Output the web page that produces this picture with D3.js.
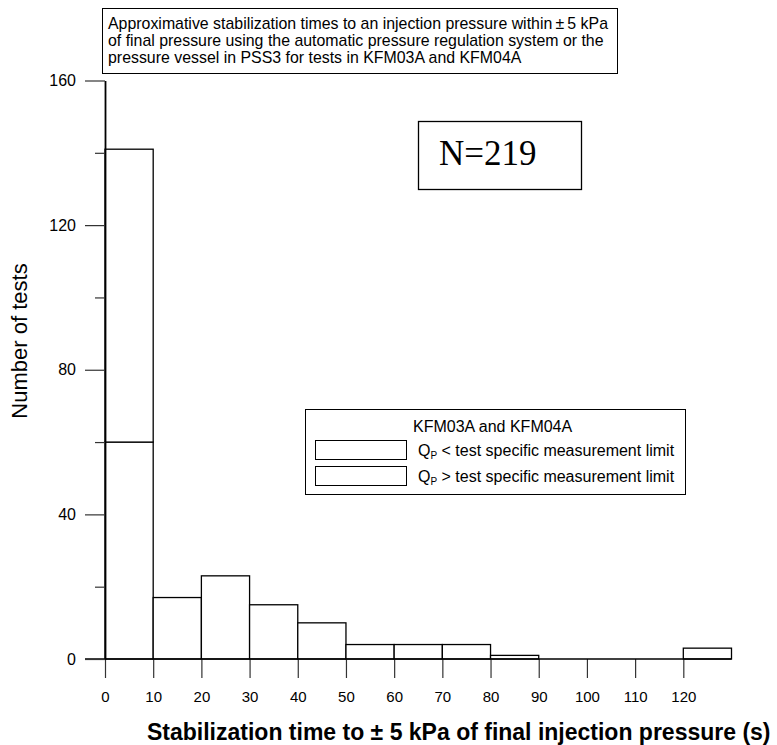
<!DOCTYPE html>
<html>
<head>
<meta charset="utf-8">
<script src="https://cdn.jsdelivr.net/npm/d3@7"></script>
<style>
  body { margin: 0; background: #fff; }
  svg { display: block; font-family: "Liberation Sans", Arial, sans-serif; }
</style>
</head>
<body>
<svg id="chart" width="777" height="745"></svg>
<script>
// bin starts (seconds), bins are 10 s wide
const binStarts = [0, 10, 20, 30, 40, 50, 60, 70, 80, 90, 100, 110, 120];
// stacked counts per bin
const lowerCounts = [60, 17, 23, 15, 10, 4, 4, 4, 1, 0, 0, 0, 3];
const upperCounts = [81, 0, 0, 0, 0, 0, 0, 0, 0, 0, 0, 0, 0];
const xTicks = [0, 10, 20, 30, 40, 50, 60, 70, 80, 90, 100, 110, 120];
const yMajorTicks = [0, 40, 80, 120, 160];
const yMinorTicks = [20, 60, 100, 140];
const titleLines = [
  'Approximative stabilization times to an injection pressure within\u2009\u00B1\u20095 kPa',
  'of final pressure using the automatic pressure regulation system or the',
  'pressure vessel in PSS3 for tests in KFM03A and KFM04A'
];
const legendTitle = 'KFM03A and KFM04A';
const legendItems = ['< test specific measurement limit', '> test specific measurement limit'];

const svg = d3.select('#chart');

const x = d3.scaleLinear().domain([0, 130]).range([105, 731.5]);
const y = d3.scaleLinear().domain([0, 160]).range([659, 80.5]);

// stack the two groups
const rows = binStarts.map((b, i) => ({ bin: b, lower: lowerCounts[i], upper: upperCounts[i] }));
const stacked = d3.stack().keys(['lower', 'upper'])(rows);

const bars = svg.append('g');
stacked.forEach(layer => {
  bars.selectAll(null)
    .data(layer.filter(d => d[1] > d[0]))
    .join('rect')
    .attr('x', d => x(d.data.bin))
    .attr('y', d => y(d[1]))
    .attr('width', d => x(d.data.bin + 10) - x(d.data.bin))
    .attr('height', d => y(d[0]) - y(d[1]))
    .attr('fill', '#fff')
    .attr('stroke', '#000')
    .attr('stroke-width', 1.3);
});

// x axis
const xAxis = svg.append('g')
  .attr('transform', `translate(0,${y(0)})`)
  .call(d3.axisBottom(x).tickValues(xTicks).tickSize(19).tickSizeOuter(0).tickPadding(13));
xAxis.select('.domain').remove();
xAxis.selectAll('.tick line').attr('stroke', '#333').attr('stroke-width', 1.2);
xAxis.selectAll('.tick text')
  .attr('font-size', 15).attr('font-family', '"Liberation Sans", Arial, sans-serif').attr('fill', '#000');
svg.append('line')
  .attr('x1', x(0) - 20).attr('x2', x(130))
  .attr('y1', y(0)).attr('y2', y(0))
  .attr('stroke', '#000').attr('stroke-width', 1.5);

// y axis
const yAxis = svg.append('g')
  .attr('transform', `translate(${x(0)},0)`)
  .call(d3.axisLeft(y).tickValues(yMajorTicks).tickSize(20).tickSizeOuter(0).tickPadding(9));
yAxis.select('.domain').attr('stroke', '#000').attr('stroke-width', 1.8);
yAxis.selectAll('.tick line').attr('stroke', '#333').attr('stroke-width', 1.2);
yAxis.selectAll('.tick text')
  .attr('font-size', 16).attr('font-family', '"Liberation Sans", Arial, sans-serif').attr('fill', '#000');
const yMinor = svg.append('g')
  .attr('transform', `translate(${x(0)},0)`)
  .call(d3.axisLeft(y).tickValues(yMinorTicks).tickSize(10).tickFormat(''));
yMinor.select('.domain').remove();
yMinor.selectAll('.tick line').attr('stroke', '#333').attr('stroke-width', 1.2);

// axis titles
svg.append('text')
  .attr('x', 147).attr('y', 740)
  .attr('font-size', 23).attr('font-weight', 'bold')
  .text('Stabilization time to \u00B1 5 kPa of final injection pressure (s)');

svg.append('text')
  .attr('transform', 'translate(27,341) rotate(-90)')
  .attr('text-anchor', 'middle')
  .attr('font-size', 22)
  .text('Number of tests');

// title box
svg.append('rect')
  .attr('x', 102.5).attr('y', 8.5).attr('width', 515).attr('height', 65)
  .attr('fill', '#fff').attr('stroke', '#000').attr('stroke-width', 1);
svg.append('text')
  .attr('font-size', 15.9)
  .selectAll('tspan')
  .data(titleLines)
  .join('tspan')
  .attr('x', 108)
  .attr('y', (d, i) => 29 + 17 * i)
  .text(d => d);

// N box
svg.append('rect')
  .attr('x', 418.5).attr('y', 121.5).attr('width', 163).attr('height', 68)
  .attr('fill', '#fff').attr('stroke', '#000').attr('stroke-width', 1.3);
svg.append('text')
  .attr('x', 439).attr('y', 165)
  .attr('font-family', '"Liberation Serif", "Times New Roman", serif')
  .attr('font-size', 35)
  .text('N=219');

// legend
const legend = svg.append('g');
legend.append('rect')
  .attr('x', 305.5).attr('y', 409.5).attr('width', 380).attr('height', 85)
  .attr('fill', '#fff').attr('stroke', '#000').attr('stroke-width', 1);
legend.append('text')
  .attr('x', 413).attr('y', 432)
  .attr('font-size', 16)
  .text(legendTitle);
const items = legend.selectAll('g.item')
  .data(legendItems)
  .join('g')
  .attr('class', 'item')
  .attr('transform', (d, i) => `translate(0,${440 + 26 * i})`);
items.append('rect')
  .attr('x', 315.5).attr('y', 0.5).attr('width', 91).attr('height', 19)
  .attr('fill', '#fff').attr('stroke', '#000').attr('stroke-width', 1);
const itemText = items.append('text')
  .attr('x', 418).attr('y', 16)
  .attr('font-size', 16);
itemText.append('tspan').text('Q');
itemText.append('tspan').attr('font-size', 10).attr('dy', 3).text('P');
itemText.append('tspan').attr('dy', -3).text(d => ' ' + d);
</script>
</body>
</html>
